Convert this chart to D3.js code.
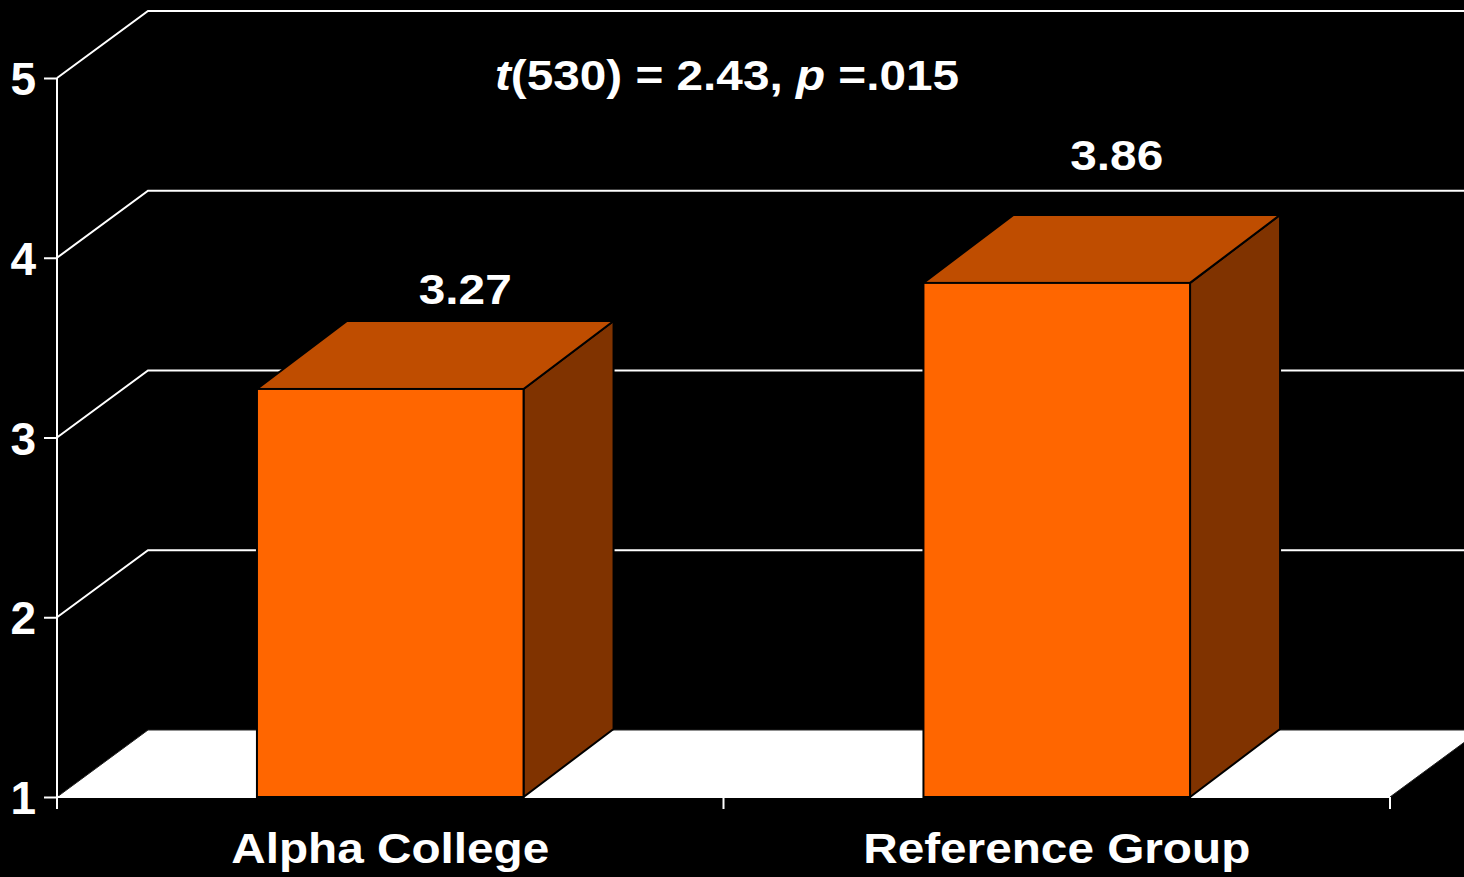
<!DOCTYPE html>
<html>
<head>
<meta charset="utf-8">
<script src="https://cdn.jsdelivr.net/npm/d3@7"></script>
<style>
  html, body { margin: 0; padding: 0; background: #000; }
  svg { display: block; }
  text { font-family: "Liberation Sans", Arial, sans-serif; font-weight: bold; fill: #fff; }
</style>
</head>
<body>
<svg id="chart"></svg>
<script>
// data
const categories = ["Alpha College", "Reference Group"];
const means = [3.27, 3.86];
const yTicks = [1, 2, 3, 4, 5];

const width = 1464, height = 877;
const depthX = 91, depthY = 67;   // 3d offset of the back wall
const stretch = 1.11;              // the original text is a bit wider than Arial

const svg = d3.select("#chart").attr("width", width).attr("height", height);
svg.append("rect").attr("width", width).attr("height", height).attr("fill", "#000");

const y = d3.scaleLinear().domain([1, 5]).range([797, 78]);
const x = d3.scaleBand().domain(categories).range([57, 1390]).padding(0);
const barW = x.bandwidth() * 0.4;

// back wall gridlines (diagonal up the side wall + across the back)
svg.append("g")
    .selectAll("polyline")
    .data(yTicks.slice(1))
    .enter()
    .append("polyline")
    .attr("points", d => `${x.range()[0]},${y(d)} ${x.range()[0] + depthX},${y(d) - depthY} ${x.range()[1] + depthX},${y(d) - depthY}`)
    .attr("fill", "none")
    .attr("stroke", "#fff")
    .attr("stroke-width", 2);

// floor
const x0 = x.range()[0], x1 = x.range()[1], y0 = y(1);
svg.append("polygon")
    .attr("points", `${x0},${y0} ${x0 + depthX},${y0 - depthY} ${x1 + depthX},${y0 - depthY} ${x1},${y0}`)
    .attr("fill", "#fff")
    .attr("stroke", "#222")
    .attr("stroke-width", 1);

// axes
const yAxis = svg.append("g").attr("transform", `translate(${x0},0)`)
    .call(d3.axisLeft(y).tickValues(yTicks).tickSize(13).tickFormat(d3.format("d")));
yAxis.select(".domain").attr("stroke", "#fff").attr("stroke-width", 2).attr("d", `M0,${y(5)}V${y0 + 12}`);
yAxis.selectAll(".tick line").attr("stroke", "#fff").attr("stroke-width", 2);
yAxis.selectAll(".tick text")
    .attr("fill", "#fff").attr("font-size", 46).attr("font-family", "Liberation Sans, Arial, sans-serif")
    .attr("font-weight", "bold").attr("x", -21).attr("dy", "0.36em");

const xAxis = svg.append("g").attr("transform", `translate(0,${y0})`);
xAxis.append("line").attr("x1", x0).attr("x2", x1).attr("stroke", "#fff").attr("stroke-width", 2);
xAxis.selectAll(".xtick")
    .data([x0, ...categories.map(c => x(c) + x.bandwidth())])
    .enter()
    .append("line")
    .attr("x1", d => d).attr("x2", d => d)
    .attr("y1", 0).attr("y2", 12)
    .attr("stroke", "#fff").attr("stroke-width", 2);
xAxis.selectAll(".cat")
    .data(categories)
    .enter()
    .append("text")
    .attr("transform", d => `translate(${x(d) + x.bandwidth() / 2},66) scale(${stretch},1)`)
    .attr("text-anchor", "middle")
    .attr("font-size", 43)
    .text(d => d);

// 3d bars
const bars = svg.append("g")
    .selectAll("g")
    .data(categories.map((c, i) => ({ cat: c, value: means[i] })))
    .enter()
    .append("g");

const bx = d => x(d.cat) + (x.bandwidth() - barW) / 2;
const bd = 90, bdy = 68;

bars.append("polygon") // side
    .attr("points", d => {
        const r = bx(d) + barW, t = y(d.value);
        return `${r},${t} ${r + bd},${t - bdy} ${r + bd},${y0 - bdy} ${r},${y0}`;
    })
    .attr("fill", "#803300").attr("stroke", "#000").attr("stroke-width", 2);

bars.append("polygon") // top
    .attr("points", d => {
        const l = bx(d), r = l + barW, t = y(d.value);
        return `${l},${t} ${l + bd},${t - bdy} ${r + bd},${t - bdy} ${r},${t}`;
    })
    .attr("fill", "#BF4D00").attr("stroke", "#000").attr("stroke-width", 2);

bars.append("rect") // front
    .attr("x", bx)
    .attr("y", d => y(d.value))
    .attr("width", barW)
    .attr("height", d => y0 - y(d.value))
    .attr("fill", "#FF6600").attr("stroke", "#000").attr("stroke-width", 2);

// value labels (placed above the back edge of each bar top)
const labelShift = [[75, 17], [60, 45]];
bars.each(function (d, i) {
    const g = d3.select(this);
    const lx = x(d.cat) + x.bandwidth() / 2 + labelShift[i][0];
    const ly = y(d.value) - bdy - labelShift[i][1];
    g.append("rect")
        .attr("x", lx - 47).attr("y", ly - 36)
        .attr("width", 94).attr("height", 51)
        .attr("fill", "#000");
    g.append("text")
        .attr("transform", `translate(${lx},${ly}) scale(${stretch},1)`)
        .attr("text-anchor", "middle")
        .attr("font-size", 43)
        .text(d3.format(".2f")(d.value));
});

// title
const title = svg.append("text")
    .attr("transform", `translate(727,90) scale(${stretch},1)`)
    .attr("text-anchor", "middle")
    .attr("font-size", 43);
title.append("tspan").attr("font-style", "italic").text("t");
title.append("tspan").text("(530) = 2.43, ");
title.append("tspan").attr("font-style", "italic").text("p");
title.append("tspan").text(" =.015");
</script>
</body>
</html>
